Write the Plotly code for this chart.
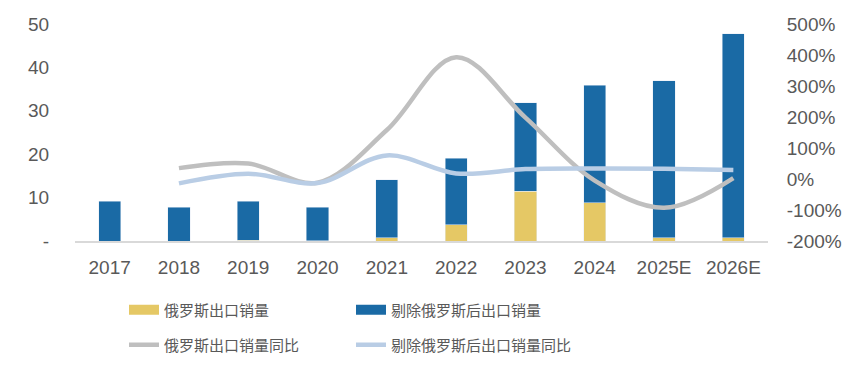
import plotly.graph_objects as go

years = ["2017", "2018", "2019", "2020", "2021", "2022", "2023", "2024", "2025E", "2026E"]
russia_sales = [0.0, 0.0, 0.2, 0.1, 0.7, 3.7, 11.5, 8.8, 0.7, 0.7]
ex_russia_sales = [9.2, 7.8, 9.0, 7.7, 13.4, 15.4, 20.3, 27.1, 36.2, 47.0]
russia_yoy = [None, 35, 50, -12, 158, 393, 198, -5, -93, 3]
ex_russia_yoy = [None, -14, 17, -13, 76, 18, 32, 34, 33, 29]

left_ticks = [0, 10, 20, 30, 40, 50]
left_ticktext = ["-", "10", "20", "30", "40", "50"]
right_ticks = [-200, -100, 0, 100, 200, 300, 400, 500]
right_ticktext = ["-200%", "-100%", "0%", "100%", "200%", "300%", "400%", "500%"]

yellow = "#E5C865"
blue = "#1A6AA5"
gray = "#BFBFBF"
lightblue = "#B9CDE5"
txt = "#595959"

fig = go.Figure()
fig.add_trace(go.Bar(x=years, y=russia_sales, name="俄罗斯出口销量",
                     marker=dict(color=yellow), showlegend=False))
fig.add_trace(go.Bar(x=years, y=ex_russia_sales, name="剔除俄罗斯后出口销量",
                     marker=dict(color=blue), showlegend=False))
fig.add_trace(go.Scatter(x=years, y=russia_yoy, name="俄罗斯出口销量同比", yaxis="y2",
                         mode="lines", line=dict(color=gray, width=4.5, shape="spline", smoothing=1.0),
                         legend="legend2"))
fig.add_trace(go.Scatter(x=years, y=ex_russia_yoy, name="剔除俄罗斯后出口销量同比", yaxis="y2",
                         mode="lines", line=dict(color=lightblue, width=4.5, shape="spline", smoothing=1.0),
                         legend="legend2"))
# legend keys for the bar series (rectangular swatches like the original)
fig.add_trace(go.Scatter(x=[None], y=[None], name="俄罗斯出口销量", mode="lines",
                         line=dict(color=yellow, width=10), legend="legend"))
fig.add_trace(go.Scatter(x=[None], y=[None], name="剔除俄罗斯后出口销量", mode="lines",
                         line=dict(color=blue, width=10), legend="legend"))

W, H = 854, 360  # page body has an 8px default margin

legend_common = dict(orientation="h", xanchor="left", yanchor="middle",
                     xref="container", yref="container",
                     font=dict(family="Noto Sans CJK SC", size=15, color=txt),
                     entrywidth=182, bgcolor="rgba(0,0,0,0)", traceorder="normal")

tick_font = dict(family="Liberation Sans, Arial", size=19, color=txt)

fig.update_layout(
    width=W, height=H,
    margin=dict(l=67, r=94, t=16, b=127, autoexpand=False),
    paper_bgcolor="white", plot_bgcolor="white",
    barmode="stack", bargap=0.68,
    font=dict(family="Liberation Sans, Arial", size=16, color=txt),
    xaxis=dict(showline=True, linecolor="#D9D9D9", linewidth=2, showgrid=False,
               ticks="outside", ticklen=8, tickcolor="rgba(0,0,0,0)",
               tickfont=tick_font),
    yaxis=dict(range=[0, 50], tickvals=left_ticks, ticktext=left_ticktext,
               showgrid=False, zeroline=False, showline=False,
               ticks="outside", ticklen=21, tickcolor="rgba(0,0,0,0)",
               tickfont=tick_font),
    yaxis2=dict(range=[-200, 500], tickvals=right_ticks, ticktext=right_ticktext,
                overlaying="y", side="right", showgrid=False, zeroline=False,
                showline=False, ticks="outside", ticklen=14, tickcolor="rgba(0,0,0,0)",
                tickfont=tick_font),
    legend=dict(x=116 / W, y=1 - 302 / H, **legend_common),
    legend2=dict(x=116 / W, y=1 - 337 / H, **legend_common),
    showlegend=True,
)

fig.write_html("out.html")
